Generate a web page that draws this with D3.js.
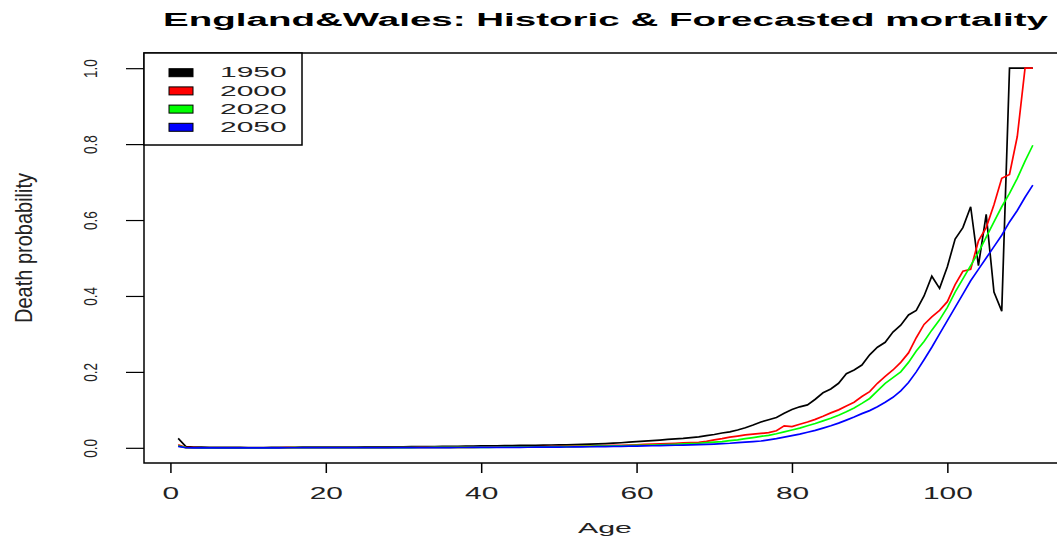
<!DOCTYPE html>
<html>
<head>
<meta charset="utf-8">
<script src="https://cdn.jsdelivr.net/npm/d3@7"></script>
<style>
  body { margin: 0; background: #fff; }
  svg { display: block; font-family: "Liberation Sans", Arial, sans-serif; }
</style>
</head>
<body>
<div id="chart"></div>
<script>
// ages 1..111, one value per age
var ages = d3.range(1, 112);
var years = ["1950", "2000", "2020", "2050"];
var colors = ["#000000", "#ff0000", "#00ff00", "#0000ff"];
var xTicks = [0, 20, 40, 60, 80, 100];
var yTicks = [0, 0.2, 0.4, 0.6, 0.8, 1.0];

var q1950 = [
  .025, .003, .0022, .0018, .0015, .0013, .0011, .001, .0009, .0008,
  .0008, .0008, .0009, .001, .0012, .0015, .0017, .0019, .002, .0021,
  .0022, .0022, .0022, .0022, .0023, .0024, .0025, .0026, .0027, .0028,
  .003, .0031, .0033, .0035, .0037, .0039, .0041, .0043, .0046, .0049,
  .0052, .0055, .0058, .006, .0062, .0065, .0068, .0071, .0074, .0077,
  .008, .0084, .009, .0096, .0104, .0112, .0122, .0134, .0148, .0162,
  .0175, .019, .0205, .022, .0235, .025, .027, .029, .032, .035,
  .039, .042, .047, .053, .06, .068, .074, .08, .091, .101,
  .108, .113, .128, .145, .155, .17, .195, .205, .218, .245,
  .265, .278, .305, .323, .35, .362, .40, .452, .42, .477,
  .55, .58, .635, .48, .615, .41, .36, 1, 1, 1, 1
];
var q2000 = [
  .008, .0005, .0003, .0002, .0002, .0001, .0001, .0001, .0001, .0001,
  .0001, .0001, .0002, .0002, .0003, .0004, .0005, .0006, .0006, .0006,
  .0006, .0006, .0006, .0006, .0006, .0007, .0007, .0007, .0008, .0008,
  .0008, .0009, .0009, .001, .001, .0011, .0012, .0013, .0014, .0015,
  .0016, .0017, .0019, .002, .0022, .0024, .0026, .0029, .0031, .0034,
  .0037, .004, .0044, .0048, .0052, .0057, .0062, .0068, .0074, .0081,
  .0088, .0095, .0102, .011, .012, .0128, .0135, .0142, .017, .021,
  .024, .028, .031, .034, .036, .038, .040, .045, .058, .056,
  .062, .068, .075, .083, .092, .1, .11, .12, .135, .148,
  .17, .188, .205, .225, .25, .29, .325, .345, .362, .385,
  .43, .465, .47, .545, .58, .64, .71, .72, .82, 1, 1
];
var q2020 = [
  .005, .0003, .0002, .0001, .0001, .0001, .0001, .0001, .0001, .0001,
  .0001, .0001, .0001, .0002, .0002, .0003, .0004, .0004, .0005, .0005,
  .0005, .0005, .0005, .0005, .0005, .0006, .0006, .0006, .0007, .0007,
  .0007, .0008, .0008, .0009, .0009, .001, .001, .0011, .0012, .0013,
  .0014, .0015, .0016, .0017, .0019, .002, .0022, .0024, .0026, .0028,
  .003, .0033, .0036, .0039, .0042, .0046, .005, .0054, .0058, .0063,
  .0068, .0074, .008, .0087, .0094, .0102, .011, .012, .0135, .015,
  .0165, .019, .021, .024, .027, .030, .033, .037, .042, .047,
  .052, .058, .064, .071, .078, .086, .095, .105, .117, .13,
  .15, .17, .185, .2, .225, .255, .28, .31, .337, .37,
  .41, .445, .48, .515, .555, .595, .635, .67, .71, .755, .797
];
var q2050 = [
  .004, .0002, .0001, .0001, .0001, .0001, .0001, .0001, .0001, .0001,
  .0001, .0001, .0001, .0001, .0002, .0002, .0003, .0003, .0003, .0003,
  .0003, .0003, .0003, .0003, .0004, .0004, .0004, .0004, .0005, .0005,
  .0005, .0005, .0006, .0006, .0007, .0007, .0008, .0008, .0009, .0009,
  .001, .0011, .0012, .0013, .0014, .0015, .0016, .0017, .0019, .002,
  .0022, .0024, .0026, .0028, .003, .0033, .0036, .0039, .0042, .0046,
  .005, .0054, .0058, .0063, .0068, .0073, .0078, .0084, .009, .0098,
  .011, .012, .0135, .015, .0165, .018, .021, .024, .028, .032,
  .036, .041, .046, .052, .058, .065, .073, .081, .09, .098,
  .108, .12, .133, .15, .172, .2, .232, .265, .3, .335,
  .37, .405, .44, .47, .5, .53, .56, .595, .625, .66, .692
];
var series = [q1950, q2000, q2020, q2050];

var W = 1057, H = 541;
var box = {left: 144, top: 53, bottom: 463, right: 1067};

var svg = d3.select("#chart").append("svg")
    .attr("width", W).attr("height", H);

// R pads the data range by 4% on each side
var x = d3.scaleLinear().domain([-3.4, 115.4]).range([box.left, box.right]);
var y = d3.scaleLinear().domain([-0.04, 1.04]).range([box.bottom, box.top]);

// title
svg.append("text")
    .attr("x", 605.5).attr("y", 26)
    .attr("text-anchor", "middle")
    .attr("font-size", 18).attr("font-weight", "bold")
    .attr("textLength", 885).attr("lengthAdjust", "spacingAndGlyphs")
    .text("England&Wales: Historic & Forecasted mortality");

// curves
var line = d3.line()
    .x(function(d, i) { return x(ages[i]); })
    .y(function(d) { return y(d); });

svg.selectAll("path.curve")
    .data(series)
    .enter()
    .append("path")
    .attr("class", "curve")
    .attr("d", line)
    .attr("fill", "none")
    .attr("stroke", function(d, i) { return colors[i]; })
    .attr("stroke-width", 1.7)
    .attr("stroke-linejoin", "miter");

// plot box
svg.append("rect")
    .attr("x", box.left).attr("y", box.top)
    .attr("width", box.right - box.left).attr("height", box.bottom - box.top)
    .attr("fill", "none").attr("stroke", "#000").attr("stroke-width", 1.5);

// x axis
var gx = svg.append("g")
    .attr("transform", "translate(0," + box.bottom + ")")
    .call(d3.axisBottom(x).tickValues(xTicks).tickSize(10).tickFormat(d3.format("d")));
gx.select(".domain").remove();
gx.selectAll("line").attr("stroke-width", 1.5);
gx.selectAll("text")
    .attr("y", 36).attr("dy", null)
    .attr("font-size", 17).attr("fill", "#222")
    .attr("textLength", function(d) { return String(d).length * 16.6; })
    .attr("lengthAdjust", "spacingAndGlyphs");

// y axis, labels turned like R's las=0
var gy = svg.append("g")
    .attr("transform", "translate(" + box.left + ",0)")
    .call(d3.axisLeft(y).tickValues(yTicks).tickSize(18).tickFormat(d3.format(".1f")));
gy.select(".domain").remove();
gy.selectAll("line").attr("stroke-width", 1.2);
gy.selectAll("text")
    .attr("x", 0).attr("y", 0).attr("dy", null)
    .attr("text-anchor", "middle")
    .attr("font-size", 13.5).attr("fill", "#222")
    .attr("transform", "translate(-47,0) scale(1.3,1) rotate(-90)");

// axis titles
svg.append("text")
    .attr("x", 605).attr("y", 533)
    .attr("text-anchor", "middle")
    .attr("font-size", 15).attr("fill", "#222")
    .attr("textLength", 54).attr("lengthAdjust", "spacingAndGlyphs")
    .text("Age");

svg.append("text")
    .attr("text-anchor", "middle")
    .attr("font-size", 20).attr("fill", "#222")
    .attr("transform", "translate(32,248) scale(1.2,1) rotate(-90)")
    .text("Death probability");

// legend
var lg = svg.append("g");
lg.append("rect")
    .attr("x", box.left).attr("y", box.top)
    .attr("width", 158).attr("height", 92)
    .attr("fill", "#fff").attr("stroke", "#000").attr("stroke-width", 1.5);

var rows = lg.selectAll("g.row")
    .data(years)
    .enter()
    .append("g")
    .attr("class", "row")
    .attr("transform", function(d, i) { return "translate(0," + (72.7 + i * 18.2) + ")"; });

rows.append("rect")
    .attr("x", 169).attr("y", -4)
    .attr("width", 24).attr("height", 8)
    .attr("fill", function(d, i) { return colors[i]; })
    .attr("stroke", "#000").attr("stroke-width", 1);

rows.append("text")
    .attr("x", 220).attr("y", 4.7)
    .attr("font-size", 14).attr("fill", "#222")
    .attr("textLength", 66.7).attr("lengthAdjust", "spacingAndGlyphs")
    .text(function(d) { return d; });
</script>
</body>
</html>
